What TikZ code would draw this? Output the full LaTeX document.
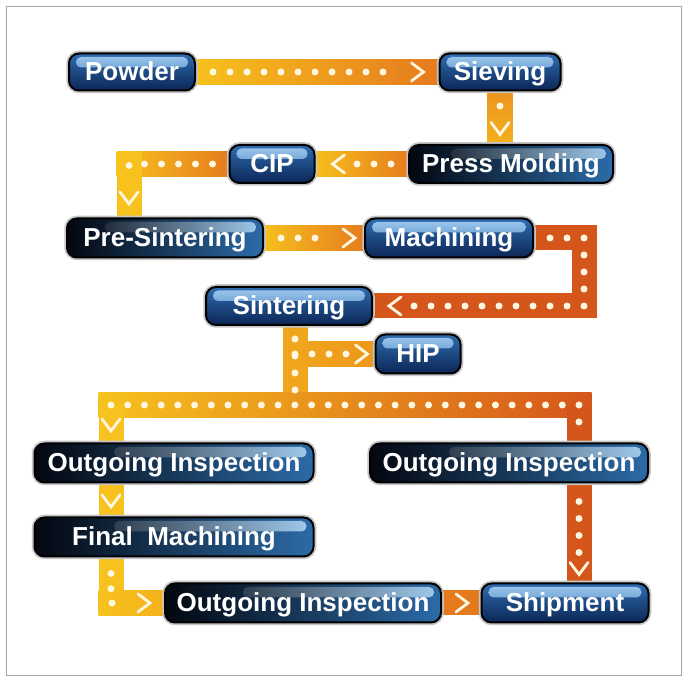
\documentclass[tikz,border=0pt]{standalone}
\usepackage{fontspec}
\newfontfamily\boxfont{Liberation Sans}
\usetikzlibrary{calc}
\definecolor{yel}{HTML}{F7C21D}
\definecolor{org}{HTML}{E5791E}
\definecolor{bred}{HTML}{D5561B}
\definecolor{mid}{HTML}{F0A61C}
\definecolor{midr}{HTML}{EC961C}
\definecolor{sieT}{HTML}{EB9220}
\definecolor{sieB}{HTML}{F3B41C}
\definecolor{yelo}{HTML}{F3B01B}
\definecolor{navyA}{HTML}{03070F}
\definecolor{blueB}{HTML}{2C6BA8}
\definecolor{blueT}{HTML}{2F6DB0}
\definecolor{blueD}{HTML}{0B2656}
\definecolor{gloss}{HTML}{A2CCF0}
\definecolor{dotc}{HTML}{FFF6E0}
\pgfdeclarelayer{bg}
\pgfsetlayers{bg,main}
\tikzset{
  pbox/.style={rounded corners=10pt, preaction={draw=gray!45, line width=5.5pt},
    draw=black, line width=2pt, text=white,
    font=\boxfont\bfseries\fontsize{26}{26}\selectfont, inner sep=0pt,
    text height=18pt, text depth=0pt},
  bluebox/.style={pbox, top color=blueT, bottom color=blueD,
    path picture={\shade[top color=gloss, bottom color=blueT, rounded corners=5pt]
      ([xshift=7pt,yshift=-3.5pt]path picture bounding box.north west) rectangle
      ([xshift=-7pt,yshift=-14pt]path picture bounding box.north east);}},
  darkbox/.style={pbox, left color=navyA, right color=blueB,
    path picture={\shade[left color=navyA, right color=gloss, rounded corners=5pt]
      ([xshift=-60pt,yshift=-3.5pt]path picture bounding box.north) rectangle
      ([xshift=-7pt,yshift=-14pt]path picture bounding box.north east);}},
  dots/.style={dotc, line width=7pt, line cap=round, dash pattern=on 0pt off 17pt},
  rowdots/.style={dots, dash pattern=on 0pt off 16.714pt},
  fmdots/.style={dots, dash pattern=on 0pt off 15.25pt},
  chev/.style={dotc, line width=2.8pt, line cap=round, line join=miter},
  chevR/.pic={\draw[chev] (-6,-9) -- (6,0) -- (-6,9);},
  chevL/.pic={\draw[chev] (6,-9) -- (-6,0) -- (6,9);},
  chevD/.pic={\draw[chev] (-9,-6) -- (0,6) -- (9,-6);},
}
\begin{document}
\begin{tikzpicture}[x=1pt,y=-1pt]
\useasboundingbox (0,0) rectangle (689,684);
\begin{pgfonlayer}{bg}
\fill[white] (0,0) rectangle (689,684);
\draw[gray!70, line width=0.8pt] (6,6) rectangle (681,675);
\end{pgfonlayer}

% nodes
\node[bluebox, minimum width=126pt, minimum height=37pt] (powder) at (132,72) {Powder};
\node[bluebox, minimum width=121pt, minimum height=37pt] (sieving) at (500,72) {Sieving};
\node[darkbox, minimum width=204pt, minimum height=38pt] (press) at (511,164) {Press Molding};
\node[bluebox, minimum width=85pt, minimum height=38pt] (cip) at (272,164) {CIP};
\node[darkbox, minimum width=196pt, minimum height=39pt] (pre) at (165,238) {Pre-Sintering};
\node[bluebox, minimum width=168pt, minimum height=39pt] (mach) at (449,238) {Machining};
\node[bluebox, minimum width=166pt, minimum height=38pt] (sint) at (289,306) {Sintering};
\node[bluebox, minimum width=85pt, minimum height=39pt] (hip) at (418,354) {HIP};
\node[darkbox, minimum width=279pt, minimum height=39pt] (outL) at (174,463) {Outgoing Inspection};
\node[darkbox, minimum width=278pt, minimum height=39pt] (outR) at (509,463) {Outgoing Inspection};
\node[darkbox, minimum width=279pt, minimum height=39pt] (fm) at (174,537) {Final\ \ Machining};
\node[darkbox, minimum width=276pt, minimum height=39pt] (outB) at (303,603) {Outgoing Inspection};
\node[bluebox, minimum width=167pt, minimum height=39pt] (ship) at (565,603) {Shipment};

% corner coordinates
\coordinate (sv) at (sieving.south |- press.north);
\coordinate (k1) at (129,164);
\coordinate (k1b) at (k1 |- pre.north);
\coordinate (k2) at (584,238);
\coordinate (k3) at (584,306);
\coordinate (k4) at (295,354);
\coordinate (k4t) at (k4 |- sint.south);
\coordinate (k6) at (111,405);
\coordinate (k7) at (579,405);
\coordinate (k5) at (k4 |- k6);
\coordinate (k6b) at (k6 |- outL.north);
\coordinate (k7b) at (k7 |- outR.north);
\coordinate (k6c) at (k6 |- outL.south);
\coordinate (k6d) at (k6 |- fm.north);
\coordinate (k6e) at (k6 |- fm.south);
\coordinate (k8) at (111,603);
\coordinate (k7c) at (k7 |- outR.south);
\coordinate (k7d) at (k7 |- ship.north);

\begin{pgfonlayer}{bg}
% bands
\shade[left color=yel, right color=org] ([xshift=-5pt,yshift=12.5pt]powder.east) rectangle ([xshift=5pt,yshift=-12.5pt]sieving.west);
\shade[top color=sieT, bottom color=sieB] ([xshift=-12.5pt,yshift=5pt]sieving.south) rectangle ([xshift=12.5pt,yshift=-5pt]sv);
\shade[left color=yel, right color=org] ([xshift=-5pt,yshift=12.5pt]cip.east) rectangle ([xshift=5pt,yshift=-12.5pt]press.west);
\shade[left color=yel, right color=org] ([xshift=-12.5pt,yshift=12.5pt]k1) rectangle ([xshift=5pt,yshift=-12.5pt]cip.west);
\fill[yel] ([xshift=-12.5pt,yshift=12.5pt]k1) rectangle ([xshift=12.5pt,yshift=-5pt]k1b);
\shade[left color=yel, right color=org] ([xshift=-5pt,yshift=12.5pt]pre.east) rectangle ([xshift=5pt,yshift=-12.5pt]mach.west);
\fill[bred] ([xshift=-5pt,yshift=12.5pt]mach.east) rectangle ([xshift=12.5pt,yshift=-12.5pt]k2);
\fill[bred] ([xshift=-12.5pt,yshift=12.5pt]k2) rectangle ([xshift=12.5pt,yshift=-12.5pt]k3);
\fill[bred] ([xshift=-5pt,yshift=12.5pt]sint.east) rectangle ([xshift=12.5pt,yshift=-12.5pt]k3);
\fill[mid] ([xshift=-12.5pt,yshift=5pt]k4t) rectangle ([xshift=12.5pt]k5);
\shade[left color=mid, right color=midr] ([yshift=12.5pt]k4) rectangle ([xshift=5pt,yshift=-12.5pt]hip.west);
\shade[left color=yel, right color=bred] ([xshift=-12.5pt,yshift=12.5pt]k6) rectangle ([xshift=12.5pt,yshift=-12.5pt]k7);
\fill[yel] ([xshift=-12.5pt]k6) rectangle ([xshift=12.5pt,yshift=-5pt]k6b);
\fill[bred] ([xshift=-12.5pt]k7) rectangle ([xshift=12.5pt,yshift=-5pt]k7b);
\fill[yel] ([xshift=-12.5pt,yshift=5pt]k6c) rectangle ([xshift=12.5pt,yshift=-5pt]k6d);
\fill[yel] ([xshift=-12.5pt,yshift=5pt]k6e) rectangle ([xshift=12.5pt,yshift=-12.5pt]k8);
\shade[left color=yel, right color=yelo] ([xshift=-12.5pt,yshift=12.5pt]k8) rectangle ([xshift=5pt,yshift=-12.5pt]outB.west);
\fill[bred] ([xshift=-12.5pt,yshift=5pt]k7c) rectangle ([xshift=12.5pt,yshift=-5pt]k7d);
\fill[org] ([xshift=-5pt,yshift=12.5pt]outB.east) rectangle ([xshift=5pt,yshift=-12.5pt]ship.west);

% dots and arrow chevrons
\draw[dots] ([xshift=17pt]powder.east) -- ([xshift=-40pt]sieving.west);
\pic at ([xshift=-21pt]sieving.west) {chevR};
\fill[dotc] ([yshift=-14.5pt]sieving.south) circle (3.5pt);
\pic at ([yshift=-37pt]sieving.south) {chevD};
\draw[dots] ([xshift=-17pt]press.west) -- ([xshift=-53pt]press.west);
\pic at ([xshift=23pt]cip.east) {chevL};
\draw[dots] ([xshift=-16pt]cip.west) -- (k1) -- ([yshift=-18pt]k1);
\pic at ([yshift=-34pt]k1) {chevD};
\draw[dots] ([xshift=17pt]pre.east) -- ([xshift=-33pt]mach.west);
\pic at ([xshift=-15pt]mach.west) {chevR};
\draw[dots] ([xshift=-34pt]k2) -- (k2) -- (k3) -- ([xshift=-171pt]k3);
\pic at ([xshift=22pt]sint.east) {chevL};
\draw[dots] ([yshift=-13pt]k4t) -- ([yshift=15pt]k5);
\draw[dots] (k4) -- ([xshift=-25pt]hip.west);
\pic at ([xshift=-13pt]hip.west) {chevR};
\draw[rowdots] (k6) -- ([xshift=1pt]k7);
\fill[dotc] ([yshift=-17pt]k7) circle (3.5pt);
\pic at ([yshift=-20pt]k6) {chevD};
\pic at ([yshift=-17.5pt]k6c) {chevD};
\draw[fmdots] ([yshift=-16pt]k6e) -- (k8) -- ([xshift=16pt]k8);
\pic at ([xshift=33pt]k8) {chevR};
\draw[dots] ([yshift=-18pt]k7c) -- ([yshift=-70pt]k7c);
\pic at ([yshift=-85pt]k7c) {chevD};
\pic at ([xshift=20pt]outB.east) {chevR};
\end{pgfonlayer}
\end{tikzpicture}
\end{document}
